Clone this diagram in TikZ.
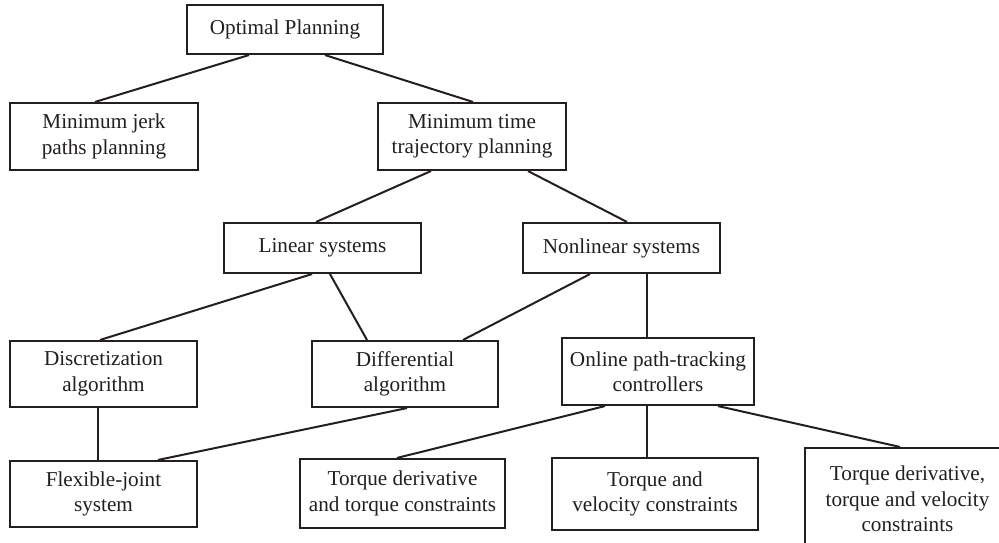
\documentclass[tikz,border=0pt]{standalone}
\usepackage{fontspec}
\setmainfont{Liberation Serif}
\definecolor{ink}{RGB}{35,31,32}
\tikzset{
  box/.style={draw=ink, line width=2.1pt, inner sep=0pt, align=center, text=ink,
    font=\fontsize{21.2}{25.5}\selectfont},
  link/.style={draw=ink, line width=2pt}
}
\begin{document}
\begin{tikzpicture}[x=1pt,y=-1pt]
\useasboundingbox (0,0) rectangle (999,542);
\clip (0,0) rectangle (999,542);
\fill[white] (0,0) rectangle (999,542);
\node[box, minimum width=196pt, minimum height=49pt] (opt) at (285,29.5) {Optimal Planning};
\node[box, minimum width=188pt, minimum height=67pt] (jerk) at (104,136.5) {Minimum jerk\\paths planning};
\node[box, minimum width=188pt, minimum height=67pt] (mtime) at (472,136.5) {Minimum time\\trajectory planning};
\node[box, minimum width=197pt, minimum height=50pt] (lin) at (322.5,248) {Linear systems};
\node[box, minimum width=197pt, minimum height=50pt] (nonlin) at (621.5,248) {Nonlinear systems};
\node[box, minimum width=187pt, minimum height=66pt] (disc) at (103.5,374) {Discretization\\algorithm};
\node[box, minimum width=186pt, minimum height=66pt] (diff) at (405,374) {Differential\\algorithm};
\node[box, minimum width=192pt, minimum height=67pt] (online) at (658,371.5) {Online path-tracking\\controllers};
\node[box, minimum width=187pt, minimum height=66pt] (flex) at (103.5,494) {Flexible-joint\\system};
\node[box, minimum width=205pt, minimum height=69pt] (tdt) at (402.5,493.5) {Torque derivative\\and torque constraints};
\node[box, minimum width=206pt, minimum height=72pt] (tv) at (655,494) {Torque and\\velocity constraints};
\node[box, minimum width=205pt, minimum height=102pt] (tdtv) at (907.5,499) {Torque derivative,\\torque and velocity\\constraints};

\draw[link] ([xshift=-36pt]opt.south) -- ([xshift=-9pt]jerk.north);
\draw[link] ([xshift=40pt]opt.south) -- ([xshift=1pt]mtime.north);
\draw[link] ([xshift=-41pt]mtime.south) -- ([xshift=-6.5pt]lin.north);
\draw[link] ([xshift=56pt]mtime.south) -- ([xshift=5.5pt]nonlin.north);
\draw[link] ([xshift=-10.5pt]lin.south) -- ([xshift=-3.5pt]disc.north);
\draw[link] ([xshift=7.5pt]lin.south) -- ([xshift=-38pt]diff.north);
\draw[link] ([xshift=-31.5pt]nonlin.south) -- ([xshift=58pt]diff.north);
\draw[link] ([xshift=25.5pt]nonlin.south) -- ([xshift=-11pt]online.north);
\draw[link] ([xshift=-5.5pt]disc.south) -- ([xshift=-5.5pt]flex.north);
\draw[link] ([xshift=2pt]diff.south) -- ([xshift=54.5pt]flex.north);
\draw[link] ([xshift=-53pt]online.south) -- ([xshift=-5.5pt]tdt.north);
\draw[link] ([xshift=-11pt]online.south) -- ([xshift=-8pt]tv.north);
\draw[link] ([xshift=60pt]online.south) -- ([xshift=-7.5pt]tdtv.north);
\end{tikzpicture}
\end{document}
